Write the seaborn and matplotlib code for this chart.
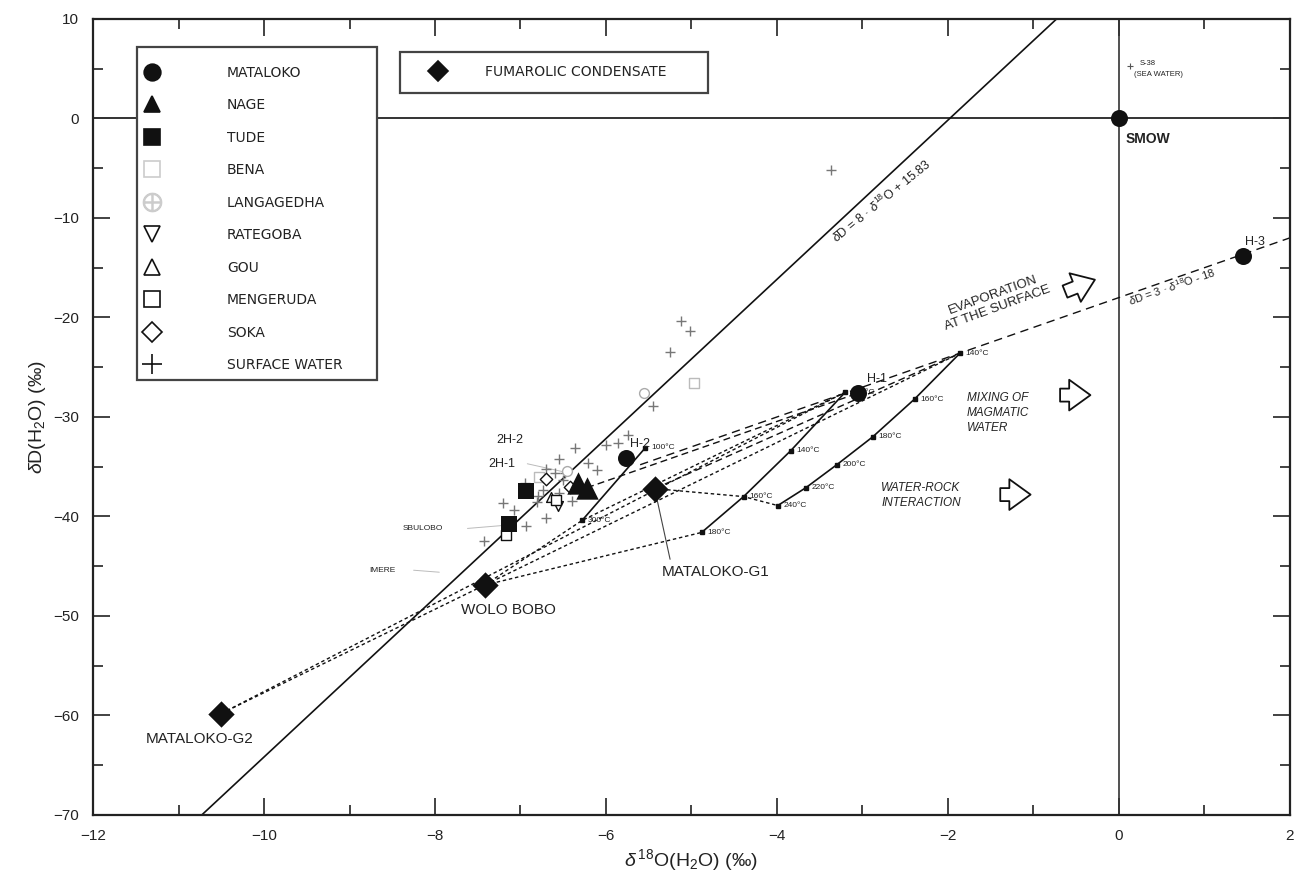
import numpy as np
import pandas as pd
import matplotlib
matplotlib.use("Agg")
import matplotlib.pyplot as plt
import seaborn as sns
from matplotlib.lines import Line2D
from matplotlib.patches import Rectangle

# 資料
mataloko_names = ['H-1', 'H-2', 'H-3']
mataloko_x = [-3.05, -5.76, 1.45]
mataloko_y = [-27.6, -34.1, -13.8]

nage_x = [-6.33, -6.22]
nage_y = [-36.6, -37.1]

tude_x = [-6.93, -7.13]
tude_y = [-37.4, -40.8]

bena_x = [-4.97, -6.78]
bena_y = [-26.6, -36.0]

langa_x = [-5.55, -6.45]
langa_y = [-27.6, -35.4]

rategoba_x = [-6.56]
rategoba_y = [-38.9]

gou_x = [-6.64]
gou_y = [-38.0]

menge_x = [-6.58, -7.17]
menge_y = [-38.3, -41.9]

soka_x = [-6.42, -6.70]
soka_y = [-37.0, -36.2]

surface_x = [-3.37, -5.12, -5.02, -5.25, -5.45, -5.74, -5.86, -6.00, -6.36, -6.55,
             -6.70, -6.60, -6.48, -6.21, -6.10, -7.20, -7.08, -6.74, -6.81, -6.70,
             -6.94, -6.80, -6.50, -6.95, -6.40, -6.55, -7.43]
surface_y = [-5.2, -20.4, -21.4, -23.5, -28.9, -31.8, -32.6, -32.8, -33.1, -34.2,
             -35.2, -35.6, -35.6, -34.6, -35.3, -38.6, -39.3, -37.3, -38.5, -40.2,
             -41.0, -37.9, -36.3, -36.6, -38.4, -37.6, -42.5]

seawater_x = [0.13]
seawater_y = [5.3]

smow_x = [0.0]
smow_y = [0.0]

cond_names = ['MATALOKO-G1', 'WOLO BOBO', 'MATALOKO-G2']
cond_x = [-5.43, -7.42, -10.50]
cond_y = [-37.2, -46.9, -59.8]

# temperature (water-rock) lines
t1_x = [-6.28, -5.54]
t1_y = [-40.4, -33.1]
t1_lab = ['300°C', '100°C']
t2_x = [-4.88, -4.39, -3.84, -3.20]
t2_y = [-41.6, -38.0, -33.4, -27.5]
t2_lab = ['180°C', '160°C', '140°C', '120°C']
t3_x = [-3.99, -3.66, -3.30, -2.88, -2.39, -1.86]
t3_y = [-38.9, -37.1, -34.8, -32.0, -28.2, -23.6]
t3_lab = ['240°C', '220°C', '200°C', '180°C', '160°C', '140°C']

# meteoric water line and evaporation line
gmwl_slope, gmwl_icpt = 8, 15.83
evap_slope, evap_icpt = 3, -18
evap_xrange = [-5.6, 2.0]

sns.set_theme(style="ticks")
plt.rcParams['font.family'] = ['Liberation Sans', 'DejaVu Sans']
plt.rcParams['mathtext.fontset'] = 'custom'
plt.rcParams['mathtext.rm'] = 'Liberation Sans'
plt.rcParams['mathtext.it'] = 'Liberation Sans:italic'

fig = plt.figure(figsize=(12.98, 8.91), dpi=100)
ax = fig.add_axes([0.0717, 0.0853, 0.922, 0.8934])

ink = '#111111'

# 參考線
ax.axhline(0, color='#333333', lw=1.4, zorder=1)
ax.axvline(0, color='#333333', lw=1.2, zorder=1)

gx = np.array([-12.0, 2.0])
sns.lineplot(x=gx, y=gmwl_slope * gx + gmwl_icpt, ax=ax, color=ink, lw=1.2, zorder=2)
ex = np.array(evap_xrange)
ax.plot(ex, evap_slope * ex + evap_icpt, color=ink, lw=1.0, ls=(0, (6, 4)), zorder=2)

# 溫度線
for tx, ty, tl in [(t1_x, t1_y, t1_lab), (t2_x, t2_y, t2_lab), (t3_x, t3_y, t3_lab)]:
    ax.plot(tx, ty, color=ink, lw=1.2, marker='s', ms=3, zorder=3)
    for xx, yy, ll in zip(tx, ty, tl):
        ax.text(xx + 0.07, yy, ll, fontsize=6, va='center', ha='left', color='#222222')

# 混合線
fine = (0, (2.5, 2))
g1 = (cond_x[0], cond_y[0])
wb = (cond_x[1], cond_y[1])
g2 = (cond_x[2], cond_y[2])
mix_lines = [
    ([g2[0], t2_x[-1]], [g2[1], t2_y[-1]], fine),
    ([g2[0], t3_x[-1]], [g2[1], t3_y[-1]], fine),
    ([wb[0], t1_x[0], t2_x[-1]], [wb[1], t1_y[0], t2_y[-1]], fine),
    ([wb[0], t2_x[0]], [wb[1], t2_y[0]], fine),
    ([g1[0], t2_x[1], t3_x[0]], [g1[1], t2_y[1], t3_y[0]], fine),
    ([nage_x[1], mataloko_x[0]], [nage_y[1], mataloko_y[0]], (0, (5, 3))),
    ([g1[0], t3_x[-1]], [g1[1], t3_y[-1]], (0, (5, 3))),
]
for mx, my, ls in mix_lines:
    ax.plot(mx, my, color=ink, lw=1.0, ls=ls, zorder=2)

# 符號
sns.scatterplot(x=surface_x, y=surface_y, marker='+', color='#777777', s=60, linewidth=1.0, ax=ax, zorder=4)
sns.scatterplot(x=seawater_x, y=seawater_y, marker='+', color='#555555', s=25, linewidth=0.8, ax=ax, zorder=4)
sns.scatterplot(x=bena_x, y=bena_y, marker='s', color='white', edgecolor='#bbbbbb', s=50, linewidth=1, ax=ax, zorder=4)
sns.scatterplot(x=langa_x, y=langa_y, marker='o', color='white', edgecolor='#aaaaaa', s=50, linewidth=1, ax=ax, zorder=4)
sns.scatterplot(x=rategoba_x, y=rategoba_y, marker='v', color='white', edgecolor=ink, s=50, linewidth=1, ax=ax, zorder=4)
sns.scatterplot(x=gou_x, y=gou_y, marker='^', color='white', edgecolor=ink, s=50, linewidth=1, ax=ax, zorder=4)
sns.scatterplot(x=menge_x, y=menge_y, marker='s', color='white', edgecolor=ink, s=50, linewidth=1, ax=ax, zorder=4)
sns.scatterplot(x=soka_x, y=soka_y, marker='D', color='white', edgecolor=ink, s=40, linewidth=1, ax=ax, zorder=4)
sns.scatterplot(x=tude_x, y=tude_y, marker='s', color=ink, s=140, linewidth=0, ax=ax, zorder=5)
sns.scatterplot(x=nage_x, y=nage_y, marker='^', color=ink, s=260, linewidth=0, ax=ax, zorder=5)
sns.scatterplot(x=mataloko_x, y=mataloko_y, marker='o', color=ink, s=150, linewidth=0, ax=ax, zorder=5)
sns.scatterplot(x=smow_x, y=smow_y, marker='o', color=ink, s=150, linewidth=0, ax=ax, zorder=5)
sns.scatterplot(x=cond_x, y=cond_y, marker='D', color=ink, s=180, linewidth=0, ax=ax, zorder=5)

# 標註
lab = dict(color='#222222')
ax.text(0.08, -2.1, 'SMOW', fontsize=10, fontweight='bold', ha='left', va='center', **lab)
ax.text(0.24, 5.5, 'S-38', fontsize=5.5, ha='left', va='center', **lab)
ax.text(0.18, 4.4, '(SEA WATER)', fontsize=5.5, ha='left', va='center', **lab)
ax.text(1.47, -12.4, 'H-3', fontsize=9, ha='left', va='center', **lab)
ax.text(-2.95, -26.2, 'H-1', fontsize=9, ha='left', va='center', **lab)
ax.text(-5.72, -32.7, 'H-2', fontsize=9, ha='left', va='center', **lab)
ax.text(-7.28, -32.3, '2H-2', fontsize=9, ha='left', va='center', **lab)
ax.text(-7.38, -34.7, '2H-1', fontsize=9, ha='left', va='center', **lab)
ax.text(-8.38, -41.2, 'SBULOBO', fontsize=6, ha='left', va='center', **lab)
ax.text(-8.77, -45.4, 'IMERE', fontsize=6, ha='left', va='center', **lab)
ax.text(-7.14, -49.4, 'WOLO BOBO', fontsize=11, ha='center', va='center', **lab)
ax.text(-4.72, -45.6, 'MATALOKO-G1', fontsize=11, ha='center', va='center', **lab)
ax.text(-10.75, -62.4, 'MATALOKO-G2', fontsize=11, ha='center', va='center', **lab)
ax.plot([-5.43, -5.25], [-37.2, -44.3], color='#444444', lw=0.8, zorder=2)
ax.plot([-6.92, -6.45], [-34.7, -35.6], color='#bbbbbb', lw=0.7, zorder=2)
ax.plot([-7.62, -7.2], [-41.2, -40.9], color='#bbbbbb', lw=0.7, zorder=2)
ax.plot([-8.25, -7.95], [-45.4, -45.6], color='#bbbbbb', lw=0.7, zorder=2)

ax.text(-2.78, -8.3, r'$\delta$D = 8 · $\delta^{18}$O + 15.83', fontsize=9, rotation=39,
        ha='center', va='center', rotation_mode='anchor', **lab)
ax.text(0.62, -16.9, r'$\delta$D = 3 · $\delta^{18}$O - 18', fontsize=8, rotation=19,
        ha='center', va='center', rotation_mode='anchor', **lab)
ax.text(-1.45, -18.4, 'EVAPORATION\nAT THE SURFACE', fontsize=9.5, rotation=20, ha='center',
        va='center', rotation_mode='anchor', linespacing=1.1, **lab)
ax.text(-1.78, -29.6, 'MIXING OF\nMAGMATIC\nWATER', fontsize=8.5, style='italic', ha='left',
        va='center', linespacing=1.35, **lab)
ax.text(-2.78, -37.9, 'WATER-ROCK\nINTERACTION', fontsize=8.5, style='italic', ha='left',
        va='center', linespacing=1.3, **lab)

arrow = dict(arrowstyle='simple,head_length=0.9,head_width=1.3,tail_width=0.55',
             fc='white', ec=ink, lw=1.3, mutation_scale=17)
ax.annotate('', xy=(-0.25, -16.1), xytext=(-0.66, -17.5), arrowprops=arrow)
ax.annotate('', xy=(-0.3, -27.8), xytext=(-0.72, -27.8), arrowprops=arrow)
ax.annotate('', xy=(-1.0, -37.8), xytext=(-1.42, -37.8), arrowprops=arrow)

# 圖例
def h(marker, fc, ec, ms):
    return Line2D([], [], ls='none', marker=marker, mfc=fc, mec=ec, ms=ms, mew=1.2)

handles = [h('o', ink, ink, 12), h('^', ink, ink, 12), h('s', ink, ink, 11),
           h('s', 'white', '#cccccc', 12), h('$\\oplus$', '#cccccc', '#cccccc', 13),
           h('v', 'white', ink, 12), h('^', 'white', ink, 12), h('s', 'white', ink, 12),
           h('D', 'white', ink, 10), h('+', ink, ink, 15)]
labels = ['MATALOKO', 'NAGE', 'TUDE', 'BENA', 'LANGAGEDHA', 'RATEGOBA', 'GOU',
          'MENGERUDA', 'SOKA', 'SURFACE WATER']
leg_font = dict(family='DejaVu Sans', size=10)

ax.add_patch(Rectangle((0.0368, 0.5465), 0.2005, 0.4183, transform=ax.transAxes,
                       fc='white', ec='#444444', lw=1.6, zorder=6))
leg1 = ax.legend(handles, labels, loc='upper left', bbox_to_anchor=(0.0278, 0.9648),
                 prop=leg_font, labelspacing=1.33, handletextpad=4.9, handlelength=1.0,
                 borderpad=1.35, borderaxespad=0, frameon=False)
leg1.set_zorder(7)
for t in leg1.get_texts():
    t.set_color('#222222')
ax.add_artist(leg1)

ax.add_patch(Rectangle((0.2565, 0.907), 0.2573, 0.0515, transform=ax.transAxes,
                       fc='white', ec='#444444', lw=1.6, zorder=6))
leg2 = ax.legend([h('D', ink, ink, 10)], ['FUMAROLIC CONDENSATE'], loc='upper left',
                 bbox_to_anchor=(0.2718, 0.9585), prop=leg_font, handletextpad=2.9,
                 handlelength=1.0, borderpad=0.92, borderaxespad=0, frameon=False)
leg2.set_zorder(7)
for t in leg2.get_texts():
    t.set_color('#222222')

# 坐標軸
ax.set_xlim(-12, 2)
ax.set_ylim(-70, 10)
ax.set_xticks(np.arange(-12, 3, 2))
ax.set_xticks(np.arange(-12, 3, 1), minor=True)
ax.set_yticks(np.arange(-70, 11, 10))
ax.set_yticks(np.arange(-70, 11, 5), minor=True)
ax.tick_params(which='both', direction='in', top=True, right=True, labelsize=11,
               colors='#222222', pad=10, width=1.2)
ax.tick_params(which='major', length=12)
ax.tick_params(which='minor', length=7)
for s in ax.spines.values():
    s.set_linewidth(1.6)
    s.set_color('#222222')
ax.set_xlabel(r'$\delta^{\,18}$O(H$_2$O) (‰)', fontsize=14, labelpad=3, color='#222222')
ax.set_ylabel(r'$\delta$D(H$_2$O) (‰)', fontsize=14, labelpad=4, color='#222222')

fig.savefig('out.png', dpi=100)
